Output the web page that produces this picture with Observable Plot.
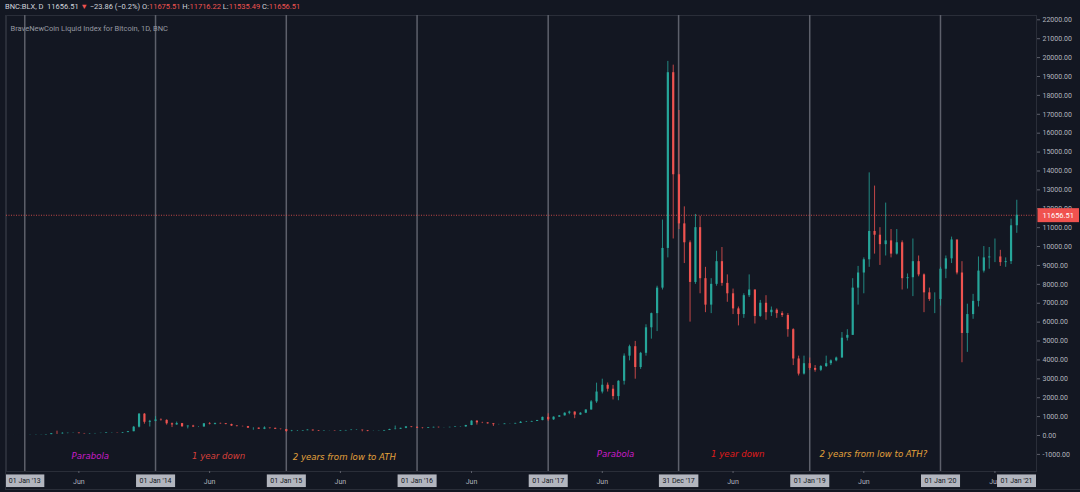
<!DOCTYPE html>
<html><head><meta charset="utf-8">
<script src="https://cdn.jsdelivr.net/npm/d3@7"></script>
<script src="https://cdn.jsdelivr.net/npm/@observablehq/plot@0.6"></script>
<style>
body{margin:0;background:#131722;width:1080px;height:492px;overflow:hidden;font-family:Roboto,"Open Sans",sans-serif;}
#hdr{height:15px;line-height:13px;font-size:7.5px;color:#d1d4dc;padding-left:5px;white-space:nowrap;}
#hdr .r{color:#ef5350}
#box{margin-left:5px;width:1075px;border-left:1px solid #2a2e39;border-bottom:1px solid #2a2e39;}
svg{display:block}
</style></head><body>
<div id="hdr">BNC:BLX, D&nbsp; 11656.51 <span class="r">▼</span> −23.86 (−0.2%) O:<span class="r">11675.51</span> H:<span class="r">11716.22</span> L:<span class="r">11535.49</span> C:<span class="r">11656.51</span></div>
<div id="box"></div>
<script>
const dates = ["2012-11-16","2012-12-01","2012-12-16","2013-01-01","2013-01-16","2013-02-01","2013-02-16","2013-03-01","2013-03-16","2013-04-01","2013-04-16","2013-05-01","2013-05-16","2013-06-01","2013-06-16","2013-07-01","2013-07-16","2013-08-01","2013-08-16","2013-09-01","2013-09-16","2013-10-01","2013-10-16","2013-11-01","2013-11-16","2013-12-01","2013-12-16",
"2014-01-01","2014-01-16","2014-02-01","2014-02-16","2014-03-01","2014-03-16","2014-04-01","2014-04-16","2014-05-01","2014-05-16","2014-06-01","2014-06-16","2014-07-01","2014-07-16","2014-08-01","2014-08-16","2014-09-01","2014-09-16","2014-10-01","2014-10-16","2014-11-01","2014-11-16","2014-12-01","2014-12-16",
"2015-01-01","2015-01-16","2015-02-01","2015-02-16","2015-03-01","2015-03-16","2015-04-01","2015-04-16","2015-05-01","2015-05-16","2015-06-01","2015-06-16","2015-07-01","2015-07-16","2015-08-01","2015-08-16","2015-09-01","2015-09-16","2015-10-01","2015-10-16","2015-11-01","2015-11-16","2015-12-01","2015-12-16",
"2016-01-01","2016-01-16","2016-02-01","2016-02-16","2016-03-01","2016-03-16","2016-04-01","2016-04-16","2016-05-01","2016-05-16","2016-06-01","2016-06-16","2016-07-01","2016-07-16","2016-08-01","2016-08-16","2016-09-01","2016-09-16","2016-10-01","2016-10-16","2016-11-01","2016-11-16","2016-12-01","2016-12-16",
"2017-01-01","2017-01-16","2017-02-01","2017-02-16","2017-03-01","2017-03-16","2017-04-01","2017-04-16","2017-05-01","2017-05-16","2017-06-01","2017-06-16","2017-07-01","2017-07-16","2017-08-01","2017-08-16","2017-09-01","2017-09-16","2017-10-01","2017-10-16","2017-11-01","2017-11-16","2017-12-01","2017-12-16",
"2018-01-01","2018-01-16","2018-02-01","2018-02-16","2018-03-01","2018-03-16","2018-04-01","2018-04-16","2018-05-01","2018-05-16","2018-06-01","2018-06-16","2018-07-01","2018-07-16","2018-08-01","2018-08-16","2018-09-01","2018-09-16","2018-10-01","2018-10-16","2018-11-01","2018-11-16","2018-12-01","2018-12-16",
"2019-01-01","2019-01-16","2019-02-01","2019-02-16","2019-03-01","2019-03-16","2019-04-01","2019-04-16","2019-05-01","2019-05-16","2019-06-01","2019-06-16","2019-07-01","2019-07-16","2019-08-01","2019-08-16","2019-09-01","2019-09-16","2019-10-01","2019-10-16","2019-11-01","2019-11-16","2019-12-01","2019-12-16",
"2020-01-01","2020-01-16","2020-02-01","2020-02-16","2020-03-01","2020-03-16","2020-04-01","2020-04-16","2020-05-01","2020-05-16","2020-06-01","2020-06-16","2020-07-01","2020-07-16","2020-08-01"];
const closes = [12.5,13.3,13.5,14.5,20,27,33,47,93,90,115,123,128,100,88,97,106,113,140,140,132,155,200,440,1130,700,750,
820,800,620,560,630,460,500,450,450,620,590,640,620,580,500,480,470,390,390,330,400,380,330,315,
210,230,235,255,285,245,222,235,237,224,246,265,275,283,260,230,230,237,265,315,335,380,455,430,
385,370,405,432,415,415,430,450,455,530,760,670,665,620,575,575,608,610,640,700,710,740,790,960,
830,970,1040,1180,1240,1080,1180,1350,1780,2300,2660,2450,2060,2870,4200,4700,3600,4350,5700,6450,7800,9900,19200,13800,
11200,10200,8100,11000,8300,6900,8000,9200,8050,7500,6700,6400,7400,7700,6300,7000,6500,6630,6450,6350,5600,4050,3250,3800,
3550,3450,3650,3800,3950,4100,5150,5300,7800,8600,9300,10800,10600,10100,10300,9600,10200,8300,8350,9200,8500,7550,7200,7200,
8800,9350,10350,8600,5400,6400,7100,8700,9400,9450,9450,9150,9200,11100,11656.51];
const highs = [13.5,13.8,13.8,15,20.5,28,33,48,95,230,145,130,135,130,110,100,110,115,140,148,142,160,210,480,1165,1160,800,
1000,880,830,660,710,640,510,540,460,630,680,650,650,630,600,530,490,480,410,400,460,390,390,340,
320,270,260,265,300,290,260,245,245,245,255,270,315,300,285,265,245,240,270,330,500,385,470,465,
460,410,410,440,440,425,435,465,465,540,780,780,700,680,625,590,615,615,645,740,745,755,800,975,
1150,990,1060,1200,1290,1250,1210,1360,1850,2770,2980,2780,2650,2900,4320,4780,4980,4400,5860,6480,7900,11400,19800,19600,
17200,12100,10300,11700,11600,8900,8300,9750,9950,8500,7750,6800,7500,8500,7700,7150,7400,6800,6700,6550,6450,5650,4200,4200,
4100,3700,3700,4200,4000,4150,5450,5600,8300,8950,9400,13900,13200,11000,12300,10900,10900,10300,8550,10400,9500,8550,7800,7550,
8900,9500,10500,10300,9200,6950,7470,9450,10000,9950,10400,9800,9400,11450,12450];
const lows = [11,12.5,13,13,14,19,26,31,46,60,70,90,115,95,80,66,90,100,110,118,125,110,150,200,400,600,450,
730,760,550,420,540,440,350,420,420,440,560,560,600,570,480,450,460,370,280,320,310,340,320,300,
170,200,215,230,255,240,215,215,230,220,220,245,255,270,195,200,225,226,235,262,300,320,360,410,
370,350,370,400,400,405,410,425,440,435,520,550,630,600,480,560,585,595,605,635,690,700,740,780,
750,800,960,1030,1100,890,1070,1160,1340,1700,2200,2300,1880,1840,2670,3950,2980,3500,4200,5100,5500,7700,9400,10400,
10900,9100,6000,8000,7500,6500,6450,7900,7900,7050,6400,5800,6200,7300,5900,6250,6100,6300,6200,6250,5200,3700,3150,3200,
3450,3350,3380,3600,3700,3900,4100,5000,5300,6900,7500,8900,9600,9000,9500,9400,9550,7700,7750,7350,8400,6500,7100,6450,
6850,8300,9100,8500,3850,4400,6150,6800,8600,8800,9150,8950,8900,9050,10700];

const lastPrice = 11656.51;
const yTicks = d3.range(-1000, 22001, 1000);
const markerDates = ["2013-01-01","2014-01-01","2015-01-01","2016-01-01","2017-01-01","2017-12-31","2019-01-01","2020-01-01"];
const markerLabels = ["01 Jan '13","01 Jan '14","01 Jan '15","01 Jan '16","01 Jan '17","31 Dec '17","01 Jan '19","01 Jan '20"];
const edgeLabel = "01 Jan '21";
const junDates = ["2013-06-01","2014-06-01","2015-06-01","2016-06-01","2017-06-01","2018-06-01","2019-06-01","2020-06-01"];
const noteText = ["Parabola","1 year down","2 years from low to ATH","Parabola","1 year down","2 years from low to ATH?"];
const noteDates = ["2013-07-03","2014-06-26","2015-06-12","2017-07-08","2018-06-14","2019-06-28"];
const noteValues = [-1085,-1100,-1140,-995,-995,-995];
const noteColors = ["#c81cc8","#d9403a","#e3a23c","#c81cc8","#e01b1b","#e3a23c"];
const subtitle = "BraveNewCoin Liquid Index for Bitcoin, 1D, BNC";

const candles = dates.map((d, i) => ({
  date: new Date(d),
  open: i ? closes[i - 1] : 12,
  high: highs[i], low: lows[i], close: closes[i]
}));
const notes = noteText.map((t, i) => ({text: t, date: new Date(noteDates[i]), value: noteValues[i], color: noteColors[i]}));
const markers = markerDates.map((d, i) => ({date: new Date(d), label: markerLabels[i]}));
const up = "#26a69a", down = "#ef5350";
const col = d => d.close >= d.open ? up : down;

const chart = Plot.plot({
  width: 1074, height: 474,
  marginLeft: 0, marginRight: 44, marginTop: 0, marginBottom: 18,
  style: {background: "#131722", color: "#b2b5be", fontFamily: "Roboto, sans-serif", fontSize: "7px"},
  x: {type: "utc", domain: [new Date("2012-11-11"), new Date("2020-09-25")], axis: null},
  y: {domain: [-1905, 22228], axis: null},
  marks: [
    Plot.frame({stroke: "#2a2e39"}),
    Plot.ruleX(markers, {x: "date", stroke: "#5d606b", strokeWidth: 1.5}),
    Plot.ruleY([lastPrice], {stroke: "#ef5350", strokeWidth: 0.8, strokeDasharray: "1,1.5"}),
    Plot.ruleX(candles, {x: "date", y1: "low", y2: "high", stroke: col, strokeWidth: 0.8}),
    Plot.ruleX(candles, {x: "date", y1: "open", y2: "close", stroke: col, strokeWidth: 2.2}),
    Plot.axisY({anchor: "right", ticks: yTicks, tickFormat: d => d.toFixed(2), tickSize: 3, tickPadding: 3, stroke: "#5d606b", fill: "#b2b5be", fontSize: 7, label: null}),
    Plot.axisX({ticks: junDates.map(d => new Date(d)), tickFormat: () => "Jun", tickSize: 2, tickPadding: 6, stroke: "#5d606b", fill: "#b2b5be", fontSize: 7, label: null}),
    Plot.text(markers, {x: "date", frameAnchor: "bottom", dy: 9, lineAnchor: "middle", text: "label", fill: "#131722", fontSize: 7, className: "datebox"}),
    Plot.text([edgeLabel], {frameAnchor: "bottom-right", dx: -4, dy: 9, textAnchor: "end", lineAnchor: "middle", text: d => d, fill: "#131722", fontSize: 7, className: "datebox"}),
    Plot.text([lastPrice], {y: d => d, frameAnchor: "right", dx: 6, textAnchor: "start", text: d => d.toFixed(2), fill: "white", fontSize: 7.5, className: "pricebox"}),
    Plot.text(notes, {x: "date", y: "value", text: "text", fill: "color", fontSize: 8.6, fontStyle: "italic", fontFamily: "DejaVu Sans"}),
    Plot.text([subtitle], {frameAnchor: "top-left", dx: 4, dy: 10, text: d => d, fill: "#9598a1", fontSize: 7.5})
  ]
});
document.getElementById("box").appendChild(chart);

function boxes(cls, fill, px, py) {
  chart.querySelectorAll(`g.${cls} text`).forEach(t => {
    const bb = t.getBBox();
    const r = document.createElementNS("http://www.w3.org/2000/svg", "rect");
    r.setAttribute("x", bb.x - px); r.setAttribute("y", bb.y - py);
    r.setAttribute("width", bb.width + 2 * px); r.setAttribute("height", bb.height + 2 * py);
    r.setAttribute("fill", fill);
    if (t.getAttribute("transform")) r.setAttribute("transform", t.getAttribute("transform"));
    t.parentNode.insertBefore(r, t);
  });
}
boxes("datebox", "#b2b5be", 3.5, 2.3);
boxes("pricebox", "#f0524f", 5, 2.5);
</script>
</body></html>
